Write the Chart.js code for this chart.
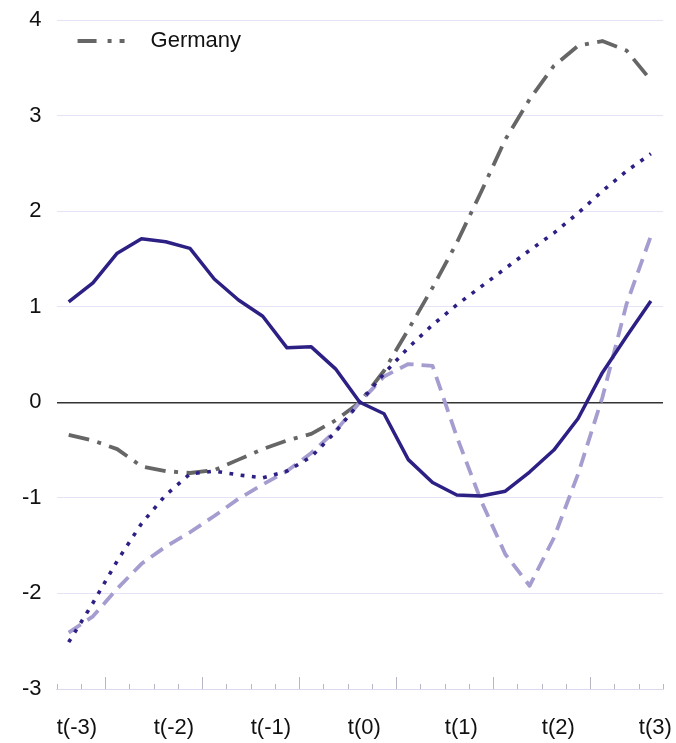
<!DOCTYPE html>
<html>
<head>
<meta charset="utf-8">
<script src="https://cdn.jsdelivr.net/npm/chart.js@4.4.0/dist/chart.umd.min.js"></script>
<style>
  html, body { margin: 0; padding: 0; background: #fff; }
  #wrap { width: 676px; height: 743px; }
</style>
</head>
<body>
<div id="wrap"><canvas id="chart"></canvas></div>
<script>
// quarterly points, year labels every 4th quarter
const yearLabels = ['t(-3)', 't(-2)', 't(-1)', 't(0)', 't(1)', 't(2)', 't(3)'];
const quarterLabels = yearLabels.flatMap((y, i) => i < yearLabels.length - 1 ? [y, '', '', ''] : [y]);

const yTicks = [-3, -2, -1, 0, 1, 2, 3, 4];

const solidLine = [1.05, 1.25, 1.56, 1.71, 1.68, 1.61, 1.29, 1.07, 0.90, 0.57, 0.58, 0.35, 0.00,
  -0.12, -0.60, -0.84, -0.97, -0.98, -0.93, -0.73, -0.50, -0.17, 0.31, 0.69, 1.06];
const dottedLine = [-2.51, -2.10, -1.66, -1.27, -0.97, -0.75, -0.72, -0.76, -0.79, -0.72, -0.57, -0.31, 0.00,
  0.30, 0.57, 0.81, 1.02, 1.21, 1.40, 1.59, 1.77, 1.98, 2.21, 2.42, 2.60];
const dashedLine = [-2.41, -2.24, -1.95, -1.69, -1.51, -1.36, -1.19, -1.01, -0.86, -0.72, -0.53, -0.30, 0.00,
  0.27, 0.40, 0.38, -0.36, -1.03, -1.59, -1.92, -1.42, -0.75, 0.05, 1.03, 1.74];
const germany = [-0.34, -0.40, -0.49, -0.67, -0.72, -0.74, -0.71, -0.60, -0.49, -0.40, -0.33, -0.19, 0.00,
  0.33, 0.76, 1.20, 1.67, 2.20, 2.75, 3.17, 3.52, 3.73, 3.78, 3.68, 3.37];

const FONT = '"Liberation Sans", Arial, Helvetica, sans-serif';
const DARK = '#2d2085';
const LIGHT = '#a59dd0';
const GREY = '#666666';

// small tick marks between quarters, longer ones mid-year
const axisTicks = {
    id: 'axisTicks',
    afterDraw(chart) {
        const x = chart.scales.x;
        const ctx = chart.ctx;
        const half = (x.getPixelForValue(1) - x.getPixelForValue(0)) / 2;
        ctx.save();
        ctx.strokeStyle = '#b8b6c4';
        ctx.lineWidth = 1;
        for (let i = 0; i <= quarterLabels.length; i++) {
            const px = Math.round(x.getPixelForValue(i) - half) + 0.5;
            const len = i % 4 === 2 ? 12 : 5;
            ctx.beginPath();
            ctx.moveTo(px, x.top);
            ctx.lineTo(px, x.top - len);
            ctx.stroke();
        }
        ctx.restore();
    }
};

new Chart(document.getElementById('chart'), {
    type: 'line',
    data: {
        labels: quarterLabels,
        datasets: [
            { label: 'Scenario 1', data: solidLine, borderColor: DARK, borderWidth: 3.5 },
            { label: 'Scenario 2', data: dottedLine, borderColor: DARK, borderWidth: 3.6, borderDash: [3.8, 7.5] },
            { label: 'Scenario 3', data: dashedLine, borderColor: LIGHT, borderWidth: 3.8, borderDash: [14.5, 8] },
            { label: 'Germany', data: germany, borderColor: GREY, borderWidth: 3.8, borderDash: [21, 8.5, 4, 8.5] }
        ]
    },
    options: {
        responsive: true,
        maintainAspectRatio: false,
        animation: false,
        elements: {
            point: { radius: 0 },
            line: { tension: 0, fill: false, borderCapStyle: 'butt', borderJoinStyle: 'round' }
        },
        layout: { padding: { top: 20, left: 7, right: 13, bottom: 0 } },
        scales: {
            x: {
                offset: true,
                grid: { drawOnChartArea: false, drawTicks: false, offset: true },
                border: { display: true, color: '#dcd9ee', width: 1 },
                ticks: {
                    autoSkip: false,
                    maxRotation: 0,
                    align: 'start',
                    labelOffset: -12,
                    padding: 26,
                    color: '#111',
                    font: { family: FONT, size: 22 }
                },
                afterFit(scale) {
                    scale.paddingLeft = 0;
                    scale.paddingRight = 0;
                    scale.height = 54;
                }
            },
            y: {
                min: yTicks[0],
                max: yTicks[yTicks.length - 1],
                afterBuildTicks(scale) {
                    scale.ticks = yTicks.map(v => ({ value: v }));
                },
                afterFit(scale) {
                    scale.paddingTop = 0;
                    scale.paddingBottom = 0;
                },
                grid: {
                    drawTicks: false,
                    color: c => c.tick && c.tick.value === 0 ? '#333333' : '#e6e3f7',
                    lineWidth: c => c.tick && c.tick.value === 0 ? 1.5 : 1
                },
                border: { display: false },
                ticks: {
                    padding: 15,
                    color: '#111',
                    font: { family: FONT, size: 22 }
                }
            }
        },
        plugins: {
            tooltip: { enabled: false },
            legend: {
                position: 'chartArea',
                align: 'start',
                // empty title just pushes the single legend row down
                title: { display: true, text: '', padding: 0, font: { size: 10, lineHeight: '21px' } },
                labels: {
                    usePointStyle: true,
                    pointStyle: 'line',
                    pointStyleWidth: 74,
                    padding: 9,
                    color: '#111',
                    font: { family: FONT, size: 22 },
                    generateLabels(chart) {
                        return Chart.defaults.plugins.legend.labels.generateLabels(chart)
                            .filter(item => item.text === 'Germany')
                            .map(item => ({ ...item, lineDash: [19, 11, 4, 8, 5, 200], lineDashOffset: -12 }));
                    }
                }
            }
        }
    },
    plugins: [axisTicks]
});
</script>
</body>
</html>
